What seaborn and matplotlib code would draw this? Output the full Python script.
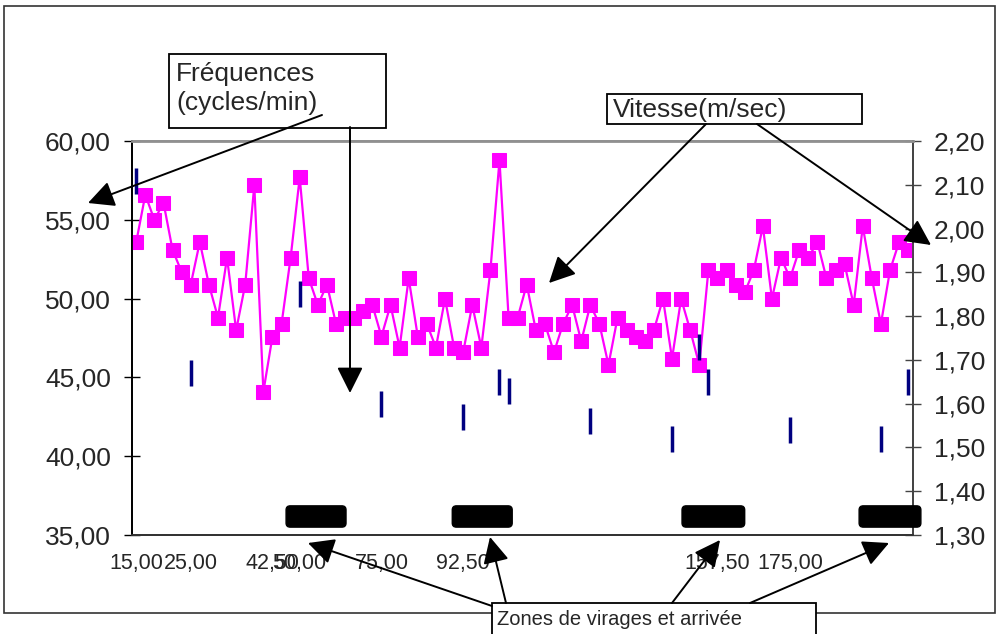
import numpy as np
import pandas as pd
import seaborn as sns
import matplotlib.pyplot as plt
from matplotlib.patches import Rectangle, FancyArrowPatch, FancyBboxPatch
from matplotlib.ticker import FuncFormatter, FixedLocator
import matplotlib.transforms as mtransforms

W, H = 1006, 634
FONT = ['Liberation Sans', 'DejaVu Sans']

# stroke rate (cycles/min), one value per category
freq = [53.6, 56.6, 55.0, 56.1, 53.1, 51.7, 50.9, 53.6, 50.9, 48.8,
        52.6, 48.0, 50.9, 57.2, 44.1, 47.6, 48.4, 52.6, 57.7, 51.3,
        49.6, 50.9, 48.4, 48.8, 48.8, 49.2, 49.6, 47.6, 49.6, 46.9,
        51.3, 47.6, 48.4, 46.9, 50.0, 46.9, 46.6, 49.6, 46.9, 51.8,
        58.8, 48.8, 48.8, 50.9, 48.0, 48.4, 46.6, 48.4, 49.6, 47.3,
        49.6, 48.4, 45.8, 48.8, 48.0, 47.6, 47.3, 48.0, 50.0, 46.2,
        50.0, 48.0, 45.8, 51.8, 51.3, 51.8, 50.9, 50.4, 51.8, 54.6,
        50.0, 52.6, 51.3, 53.1, 52.6, 53.6, 51.3, 51.8, 52.2, 49.6,
        54.6, 51.3, 48.4, 51.8, 53.6, 53.1]

# speed (m/sec) at a few categories
speed_pos = [0, 6, 18, 27, 36, 40, 41, 50, 59, 62, 63, 72, 82, 85]
speed = [2.11, 1.67, 1.85, 1.60, 1.57, 1.65, 1.63, 1.56, 1.52, 1.73,
         1.65, 1.54, 1.52, 1.65]

# distance labels under the axis
dist_pos = [0, 6, 15, 18, 27, 36, 64, 72]
dist_labels = ["15,00", "25,00", "42,50", "50,00", "75,00", "92,50",
               "157,50", "175,00"]

# turn / finish zones (in category units)
zones = [(16.5, 23.1), (34.8, 41.4), (60.1, 67.0), (79.6, 86.4)]

sns.set_style("white")
plt.rcParams['font.family'] = FONT


def fxy(px, py):
    return (px / W, 1 - py / H)


fig = plt.figure(figsize=(W / 100, H / 100), dpi=100)
x0, x1, y0, y1 = 131.7, 912.7, 141.2, 535.0
ax = fig.add_axes([x0 / W, 1 - y1 / H, (x1 - x0) / W, (y1 - y0) / H])
ax2 = ax.twinx()

df = pd.DataFrame({"cat": np.arange(len(freq)), "freq": freq})
sns.lineplot(data=df, x="cat", y="freq", ax=ax, color="#FF00FF",
             marker="s", markersize=10.5, markeredgecolor="#FF00FF",
             linewidth=1.6, zorder=3)

sp = pd.DataFrame({"cat": speed_pos, "speed": speed})
sns.scatterplot(data=sp, x="cat", y="speed", ax=ax2, marker="|",
                s=19 ** 2, linewidth=2.5, color="#000080", zorder=4)

n = len(freq)
ax.set_xlim(-0.5, n - 0.5)
ax.set_ylim(35, 60)
ax.set_yticks(np.arange(35, 60.1, 5))
ax2.set_ylim(1.30, 2.20)
ax2.set_yticks(np.arange(1.30, 2.201, 0.10))

comma2 = FuncFormatter(lambda v, p: f"{v:.2f}".replace(".", ","))
ax.yaxis.set_major_formatter(comma2)
ax2.yaxis.set_major_formatter(comma2)

ax.xaxis.set_major_locator(FixedLocator(np.arange(-0.5, n - 1, 5)))
ax.xaxis.set_minor_locator(FixedLocator(dist_pos))
ax.set_xticklabels([], minor=False)
ax.set_xticklabels(dist_labels, minor=True, fontfamily=FONT)

ax.tick_params(axis="x", which="major", direction="inout", length=10,
               width=1, color="#333333")
ax.tick_params(axis="x", which="minor", length=0, pad=13, labelsize=15.5)
ax.tick_params(axis="y", direction="inout", length=12, width=1,
               color="#000000", pad=9, labelsize=19)
ax2.tick_params(axis="y", direction="inout", length=12, width=1,
                color="#444444", pad=9, labelsize=19)

ax.set_xlabel("")
ax.set_ylabel("")
ax2.set_ylabel("")
for a in (ax, ax2):
    a.spines["left"].set_color("#000000")
    a.spines["bottom"].set_color("#333333")
    a.spines["right"].set_color("#444444")
    a.spines["top"].set_color("#909090")
    for s in a.spines.values():
        s.set_linewidth(1.3)
ax2.spines["top"].set_linewidth(2)

# black turn zones
trans = mtransforms.blended_transform_factory(ax.transData, ax.transAxes)
for a_, b_ in zones:
    box = FancyBboxPatch((a_, 0.020), b_ - a_, 0.054,
                         boxstyle="round,pad=0,rounding_size=0.45",
                         transform=trans, facecolor="black",
                         edgecolor="black", clip_on=False, zorder=5,
                         mutation_aspect=0.023)
    ax2.add_patch(box)

# outer frame
fx, fy = fxy(4, 613)
fig.add_artist(Rectangle((fx, fy), 991 / W, 607 / H, transform=fig.transFigure,
                         fill=False, edgecolor="#333333", linewidth=1.2))

# text boxes
boxes = [(169, 54, 386, 128), (607, 94, 862, 124), (492, 603, 816, 640)]
for bx0, by0, bx1, by1 in boxes:
    fx, fy = fxy(bx0, by1)
    fig.add_artist(Rectangle((fx, fy), (bx1 - bx0) / W, (by1 - by0) / H,
                             transform=fig.transFigure, facecolor="white",
                             edgecolor="black", linewidth=1.3, zorder=6))

fig.text(*fxy(176, 81), "Fréquences", fontsize=19, va="baseline",
         fontfamily=FONT, zorder=7)
fig.text(*fxy(176, 110), "(cycles/min)", fontsize=19, va="baseline",
         fontfamily=FONT, zorder=7)
fig.text(*fxy(613, 117), "Vitesse(m/sec)", fontsize=19, va="baseline",
         fontfamily=FONT, zorder=7)
fig.text(*fxy(497, 625), "Zones de virages et arrivée", fontsize=14.5,
         va="baseline", fontfamily=FONT, zorder=7)

# arrows
arrows = [((322, 115), (88, 203)), ((350, 127), (350, 393)),
          ((706, 124), (549, 283)), ((757, 124), (931, 245)),
          ((492, 606), (308, 543)), ((506, 603), (490, 537)),
          ((672, 603), (720, 540)), ((750, 603), (889, 543))]
for (sx, sy), (tx, ty) in arrows:
    arr = FancyArrowPatch(fxy(sx, sy), fxy(tx, ty), transform=fig.transFigure,
                          arrowstyle="-|>,head_length=0.4,head_width=0.2",
                          mutation_scale=40, color="black", linewidth=1.4,
                          shrinkA=0, shrinkB=0, zorder=8)
    fig.add_artist(arr)

fig.savefig("out.png", dpi=100)
